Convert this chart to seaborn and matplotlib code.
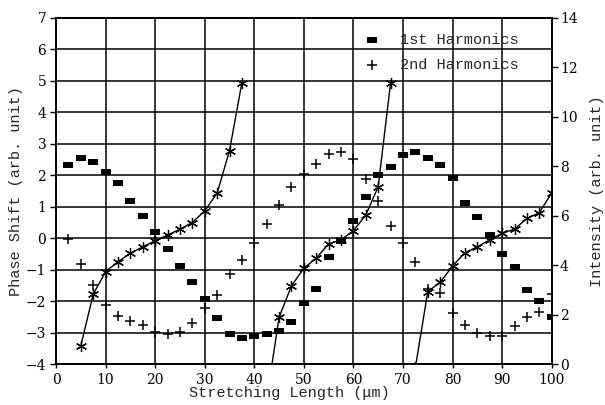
import matplotlib
matplotlib.use('Agg')
import matplotlib.pyplot as plt
import seaborn as sns

# stretching length (um) of every harmonics measurement
stretch = [2.5, 5, 7.5, 10, 12.5, 15, 17.5, 20, 22.5, 25,
           27.5, 30, 32.5, 35, 37.5, 40, 42.5, 45, 47.5, 50,
           52.5, 55, 57.5, 60, 62.5, 65, 67.5, 70, 72.5, 75,
           77.5, 80, 82.5, 85, 87.5, 90, 92.5, 95, 97.5, 100]

# intensity (arb. unit), right axis
first_harm = [8.06, 8.35, 8.16, 7.76, 7.34, 6.59, 5.99, 5.33, 4.65, 3.98,
              3.32, 2.63, 1.86, 1.21, 1.07, 1.15, 1.23, 1.34, 1.70, 2.49,
              3.03, 4.33, 4.99, 5.80, 6.77, 7.65, 7.98, 8.45, 8.59, 8.35,
              8.06, 7.51, 6.50, 5.94, 5.22, 4.44, 3.95, 3.00, 2.57, 1.90]
second_harm = [5.05, 4.05, 3.21, 2.39, 1.95, 1.76, 1.58, 1.31, 1.22, 1.31,
               1.68, 2.29, 2.80, 3.65, 4.20, 4.91, 5.66, 6.44, 7.18, 7.69,
               8.08, 8.49, 8.59, 8.29, 7.48, 6.59, 5.59, 4.89, 4.15, 3.05,
               2.90, 2.09, 1.57, 1.27, 1.15, 1.15, 1.55, 1.92, 2.13, 2.83]

# phase shift (arb. unit), left axis, three wrapped branches
phase_x1 = [5, 7.5, 10, 12.5, 15, 17.5, 20, 22.5, 25, 27.5, 30, 32.5, 35, 37.5]
phase_y1 = [-3.41, -1.78, -1.06, -0.74, -0.48, -0.27, -0.08, 0.10, 0.29, 0.50,
            0.87, 1.43, 2.78, 4.94]
phase_x2 = [42.5, 45, 47.5, 50, 52.5, 55, 57.5, 60, 62.5, 65, 67.5]
phase_y2 = [-5.1, -2.51, -1.51, -0.95, -0.63, -0.18, -0.05, 0.24, 0.74, 1.64, 4.94]
phase_x3 = [72.5, 75, 77.5, 80, 82.5, 85, 87.5, 90, 92.5, 95, 97.5, 100]
phase_y3 = [-4.1, -1.69, -1.40, -0.88, -0.46, -0.27, -0.05, 0.16, 0.29, 0.63,
            0.81, 1.44]

sns.set_style('white')
plt.rcParams['font.family'] = ['DejaVu Serif']
label_font = {'family': 'Liberation Mono', 'size': 11}

fig = plt.figure(figsize=(6.05, 4.05), dpi=100)
ax = fig.add_axes([0.0926, 0.1005, 0.8193, 0.8558])
ax2 = ax.twinx()

for xs, ys in [(phase_x1, phase_y1), (phase_x2, phase_y2), (phase_x3, phase_y3)]:
    sns.lineplot(x=xs, y=ys, ax=ax, color='black', lw=1,
                 marker=(6, 2, 0), markersize=8, markeredgewidth=0.9,
                 markeredgecolor='black')

rect = [(-1.5, -1), (1.5, -1), (1.5, 1), (-1.5, 1)]
sns.scatterplot(x=stretch, y=first_harm, ax=ax2, marker=rect, s=45,
                color='black', edgecolor='black', linewidth=0,
                label='1st Harmonics')
sns.scatterplot(x=stretch, y=second_harm, ax=ax2, marker='+', s=55,
                color='black', linewidth=1.1, label='2nd Harmonics')

ax.set_xlim(0, 100)
ax.set_ylim(-4, 7)
ax.set_xticks(range(0, 101, 10))
ax.set_yticks(range(-4, 8))
ax.grid(True, color='black', lw=1.1)
ax2.set_ylim(0, 14)
ax2.set_yticks(range(0, 15, 2))
ax2.grid(False)

for a in (ax, ax2):
    for sp in a.spines.values():
        sp.set_color('black')
        sp.set_linewidth(1.2)

ax.tick_params(axis='y', direction='out', length=4, width=1, labelsize=10,
               pad=3, colors='black', left=True)
ax.tick_params(axis='x', direction='out', length=3, width=1, labelsize=10,
               pad=3, colors='black', bottom=True)
ax2.tick_params(axis='y', direction='out', length=4, width=1, labelsize=10,
                pad=2, colors='black', right=True)

ax.set_xlabel('Stretching Length (\u03bcm)', fontdict=label_font)
ax.xaxis.set_label_coords(0.47, -0.062)
ax.set_ylabel('Phase Shift (arb. unit)', fontdict=label_font)
ax.yaxis.set_label_coords(-0.067, 0.5)
ax2.set_ylabel('Intensity (arb. unit)', fontdict=label_font)
ax2.yaxis.set_label_coords(1.078, 0.5)

ax2.legend(loc='upper left', bbox_to_anchor=(364.5 / 605, 1 - 33 / 405),
           bbox_transform=fig.transFigure, frameon=False, borderpad=0,
           borderaxespad=0, handlelength=1, handletextpad=1.3,
           labelspacing=0.7, prop=label_font)

fig.savefig('out.png', dpi=100, facecolor='white')
